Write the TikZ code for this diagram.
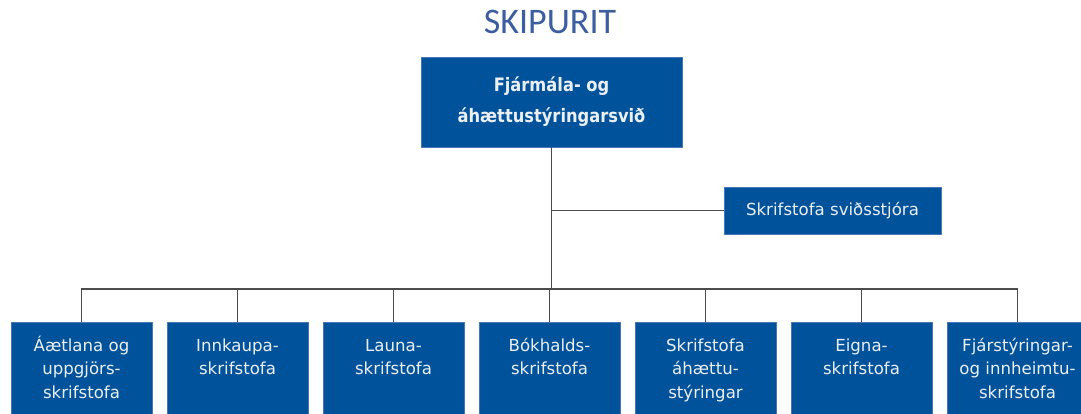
\documentclass[tikz,border=0pt]{standalone}
\usepackage{fontspec}
\setmainfont{DejaVu Sans}
\newfontfamily\titlefont{Carlito}
\newfontfamily\headfont[FakeStretch=0.88]{DejaVu Sans}
\usepackage{xcolor}
\usepackage{tikz}

\definecolor{unitblue}{RGB}{0,82,155}
\definecolor{unitedge}{RGB}{70,120,185}
\definecolor{unitwhite}{RGB}{236,239,246}
\definecolor{titleblue}{RGB}{60,94,160}
\definecolor{linkgray}{RGB}{75,75,75}

% text of the lower offices, set from the top of the box
\newcommand{\unitlines}[1]{\parbox[c][100pt][t]{141pt}{\centering\rule{0pt}{29pt}#1}}

\begin{document}
\begin{tikzpicture}[x=1pt,y=-1pt,
	unit/.style={draw=unitedge,fill=unitblue,text=unitwhite,inner sep=0pt,line width=0.6pt},
	office/.style={unit,font=\fontsize{16.6}{23.5}\selectfont},
	link/.style={draw=linkgray,line width=1.5pt}]
	\clip (0,0) rectangle (1081,414);
	\node[font=\titlefont\fontsize{36}{40}\selectfont,text=titleblue] (title) at (550,22) {SKIPURIT};
	\node[unit,minimum width=261,minimum height=90,align=center,font=\headfont\fontsize{18.5}{31}\selectfont\bfseries] (fin) at (551.5,102) {Fjármála- og\\áhættustýringarsvið};
	\node[unit,minimum width=217,minimum height=47,font=\fontsize{16.6}{20}\selectfont] (chief) at (832.5,210.5) {Skrifstofa sviðsstjóra};
	\node[office] (u1) at (81.5,372) {\unitlines{Áætlana og\\uppgjörs-\\skrifstofa}};
	\node[office] (u2) at (237.5,372) {\unitlines{Innkaupa-\\skrifstofa}};
	\node[office] (u3) at (393.5,372) {\unitlines{Launa-\\skrifstofa}};
	\node[office] (u4) at (549.5,372) {\unitlines{Bókhalds-\\skrifstofa}};
	\node[office] (u5) at (705.5,372) {\unitlines{Skrifstofa\\áhættu-\\stýringar}};
	\node[office] (u6) at (861.5,372) {\unitlines{Eigna-\\skrifstofa}};
	\node[office] (u7) at (1017.5,372) {\unitlines{Fjárstýringar-\\og innheimtu-\\skrifstofa}};
	\coordinate (bus) at (552,289);
	\draw[link] (fin) -- (fin |- bus);
	\draw[link] (chief) -- (chief -| fin);
	\draw[link] (u1) -- (u1 |- bus) -- (u7 |- bus) -- (u7);
	\draw[link] (u2) -- (u2 |- bus) (u3) -- (u3 |- bus) (u4) -- (u4 |- bus)
			(u5) -- (u5 |- bus) (u6) -- (u6 |- bus);
\end{tikzpicture}
\end{document}
